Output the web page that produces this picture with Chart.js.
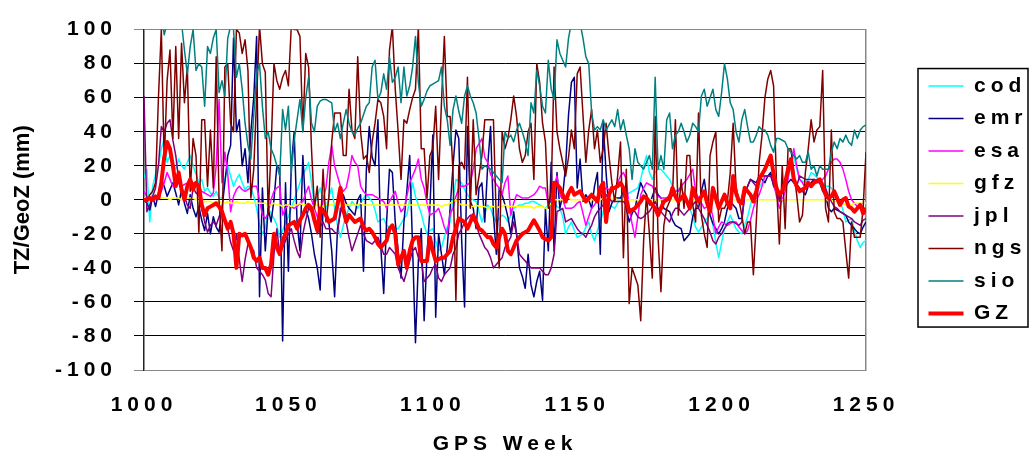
<!DOCTYPE html>
<html>
<head>
<meta charset="utf-8">
<script src="https://cdn.jsdelivr.net/npm/chart.js@4.4.1/dist/chart.umd.min.js"></script>
<style>
  html, body { margin: 0; padding: 0; background: #fff; }
  canvas { display: block; }
</style>
</head>
<body>
<canvas id="chart" width="1032" height="461"></canvas>
<script>
// GPS weeks 1000..1250, one value per week
const weeks = Array.from({ length: 251 }, (_, i) => 1000 + i);
const weekTicks = [1000, 1050, 1100, 1150, 1200, 1250];
const tzTicks = [-100, -80, -60, -40, -20, 0, 20, 40, 60, 80, 100];
const seriesNames = ['cod', 'emr', 'esa', 'gfz', 'jpl', 'ngs', 'sio', 'GZ'];

const cod = [
  13, 18, -13, 8, 15, 20, 30, 36, 22, 26,
  20, 18, 24, 20, 18, 22, 26, 20, 15, 10,
  12, 5, 7, 4, 2, 5, 1, 1, 12, 20,
  14, 8, 12, 15, 10, 6, 8, 7, 2, -5,
  -15, -20, -17, -5, -8, -11, -15, -22, -18, -13,
  -10, -5, 0, 5, 10, 15, 18, 22, 10, -3,
  2, 7, 0, -5, 2, 7, -5, -15, -22, -15,
  -9, -5, -1, -3, -5, -2, 1, 3, 1, -1,
  -6, -13, -12, -11, -15, -16, -17, -17, -17, -14,
  -11, -9, 0, 10, 2, -3, -8, -15, -20, -18,
  -17, -24, -30, -28, -22, -16, -13, 0, 12, 11,
  10, 6, 3, 1, 0, -1, -7, -13, -8, -3,
  -5, -10, -13, -11, -9, -10, -13, -9, -5, -4,
  -3, -3, -2, -2, -1, -1, -2, -3, -4, -5,
  -3, -1, -2, -4, -5, -10, -20, -16, -13, -18,
  -22, -21, -20, -16, -13, -20, -24, -18, -13, -7,
  -1, -3, -4, -5, -2, 1, 2, 3, 4, 5,
  6, 7, 12, 20, 26, 16, 12, 16, 18, 18,
  16, 14, 12, 8, 5, 6, 7, 3, -1, -5,
  -10, -16, -19, -16, -13, -11, -9, -15, -25, -34,
  -25, -17, -13, -9, -13, -17, -19, -20, -15, -10,
  -3, 3, 5, 7, 10, 14, 14, 14, 12, 8,
  3, 5, 7, 14, 20, 26, 18, 12, 11, 10,
  12, 16, 15, 13, 12, 10, 8, 8, 7, 4,
  1, -1, -6, -13, -12, -11, -18, -24, -28, -25,
  -24
];

const emr = [
  0, -2, -6, 2, -4, 4, 12, 8, 2, 6,
  10, 4, -3, 6, -2, -8, 3, -5, -10, -4,
  -12, -18, -8, -20, -10, -16, -19, -5, 10, 26,
  32, 95, 40, 47, 20, 30, 10, 40, 60, 96,
  -57, 7, -30, -5, -13, 0, 20, 18, -83, 10,
  -42, 20, 40, -13, -30, 26, -5, -11, -20, -32,
  -40, -53, -5, -10, -13, -30, -57, -17, -8, 3,
  -2, -5, -7, -9, 0, 3, -42, 18, 43, 25,
  20, 47, -28, -55, -13, 18, 16, -13, -30, -46,
  -13, 5, 26, -28, -84, -36, -17, -71, -32, -5,
  38, -69, -20, -32, -44, -28, -5, 20, 41, 36,
  -24, -63, 43, -1, -5, -17, 7, 10, -13, 20,
  43, -9, -32, 7, 3, -3, -10, -20, -7, -20,
  -40, -45, -52, -32, -50, -57, -48, -42, -59, -5,
  -30, 22, -30, 16, -5, 3, 20, 50, 69, 72,
  7, 24, -1, 3, 0, -5, 8, 16, -32, 45,
  16, -7, -2, 1, 1, 1, 5, -5, -13, -8,
  -5, 3, 10, 6, 3, -3, 2, 7, 3, 1,
  -5, -6, -7, -12, -15, -16, -17, -24, -22, -20,
  -10, -5, -5, 5, 12, 0, -9, -14, -17, -20,
  -17, -13, -5, -1, -3, -5, -11, -11, 3, 8,
  12, 11, 10, 14, 12, 10, 14, 16, 8, 5,
  1, 4, 8, 10, 12, 10, 9, 7, 5, 3,
  8, 10, 12, 11, 10, 5, 3, -5, -7, -5,
  -6, -7, -8, -9, -13, -15, -17, -19, -20, -16,
  -13
];

const esa = [
  5, 2, 0, 1, 0, 2, 5, 10, 16, 12,
  8, 8, 10, 8, 9, 10, 12, 10, 10, 8,
  5, 4, 3, 2, 4, 20, 59, 10, 28, 15,
  -7, 2, 6, 8, 6, 5, 6, 7, 8, 8,
  0, -9, -11, -8, 0, 5, 7, 8, -9, -5,
  -3, -4, -5, -4, -2, -1, 4, 8, 0, -5,
  -10, -15, 0, 7, 22, 32, 20, 14, 8, 5,
  7, 15, 26, 22, 20, 8, 5, 3, 3, 3,
  2, 1, 0, -1, -5, -1, 2, 5, -2, -7,
  -5, 2, 10, 14, 18, 24, 12, 7, -2, -9,
  -8, -7, -5, -10, -16, -20, -8, -5, 2, 7,
  8, 8, 9, 10, 18, 30, 33, 36, 25, 22,
  15, 12, 9, 7, 3, 10, 14, -9, -2, 3,
  2, 1, 1, 1, 2, 3, 5, 8, 7, 7,
  -3, 2, 8, 14, 3, 0, -5, -5, -5, -4,
  -2, -1, -8, -15, -10, -5, -3, 0, 3, 5,
  7, 6, 5, 7, 10, 14, 16, 12, -5, -14,
  -22, -10, 3, 7, 10, 9, 8, 5, 2, 1,
  1, 1, 3, 5, 5, 5, 8, 10, 12, 15,
  18, 5, 1, -2, -5, -4, -3, -10, -20, -16,
  -13, -14, -15, -14, -13, -13, -16, -18, -20, -18,
  -12, -5, 0, 3, 8, 14, 14, 14, 10, 2,
  -5, 0, 5, 12, 22, 30, 20, 12, 10, 7,
  8, 9, 10, 10, 10, 12, 14, 18, 22, 24,
  24, 22, 18, 12, 5, 0, -2, -4, -5, -5,
  -5
];

const gfz = [
  1, 1, 1, 1, 1, 1, 1, 1, 1, 0,
  1, 1, 1, 0, 1, 1, 1, 1, 0, 1,
  0, -1, -1, -1, -2, -1, -1, -2, -2, -1,
  -2, -2, -1, -2, -2, -2, -1, -2, -2, -2,
  -2, -2, -2, -3, -3, -2, -3, -3, -4, -3,
  -3, -4, -3, -3, -2, -3, -3, -3, -4, -3,
  -3, -3, -4, -3, -3, -3, -2, -3, -3, -3,
  -3, -3, -3, -3, -3, -2, -3, -3, -3, -3,
  -3, -3, -3, -3, -3, -3, -3, -3, -3, -3,
  -3, -3, -3, -3, -3, -3, -3, -3, -3, -3,
  -3, -3, -3, -4, -3, -3, -2, -1, 0, -2,
  -3, -3, -3, -4, -4, -3, -4, -4, -4, -5,
  -4, -4, -5, -4, -4, -3, -4, -4, -4, -4,
  -4, -4, -4, -4, -4, -5, -4, -4, -4, -5,
  -4, -2, 0, 0, 0, 0, 0, 1, 0, 0,
  0, 0, 0, 0, 0, 0, 0, 0, 0, 1,
  0, 0, 0, 1, 0, 0, 0, 0, 0, 0,
  0, 0, 0, 0, 1, 0, 0, 0, 0, 0,
  0, 0, 0, 0, 0, 0, 0, 0, 0, 0,
  0, 0, 0, 0, 0, 0, 0, 0, 0, 0,
  0, 0, 0, 0, 0, 0, 0, 0, 0, 0,
  0, 0, 0, 0, 0, 0, 0, 0, 0, 0,
  0, 0, 0, 0, 0, 0, 0, 0, 0, 0,
  0, 0, 0, 0, 0, 0, 0, 0, 0, -1,
  -1, -2, -2, -3, -3, -3, -2, -2, -2, -2,
  -2
];

const jpl = [
  61, -7, -3, 2, 7, 20, 43, 40, 45, 47,
  35, 26, 12, 8, 2, -3, -5, 7, 4, 3,
  -5, -13, -19, -15, -13, -15, -10, -5, -12, -17,
  -25, -30, -20, -35, -48, -35, -26, -28, -30, -40,
  -42, -44, -47, -55, -57, -32, -17, -32, -28, -24,
  -20, -17, -24, -30, -34, -20, -12, -5, -7, -9,
  -20, -16, -13, -17, -17, -17, -19, -20, -5, -8,
  -13, -22, -30, -25, -20, -15, -20, -24, -25, -26,
  -24, -22, -27, -32, -32, -28, -30, -32, -40, -44,
  -48, -42, -36, -30, -28, -34, -36, -48, -46, -44,
  -40, -38, -46, -48, -44, -42, -40, -32, -28, -20,
  -17, -13, -11, -9, -12, -14, -20, -24, -28, -30,
  -34, -40, -38, -36, -34, -28, -25, -22, -13, -20,
  -32, -34, -36, -38, -40, -40, -40, -40, -42, -44,
  -44, -40, -32, -7, -6, -5, -13, -12, -11, -14,
  -17, -19, -20, -22, -18, -15, -10, -7, -5, -3,
  3, 1, -1, -1, -1, -1, -1, -3, -5, -6,
  -7, -10, -11, -10, -8, -7, -4, -1, -5, -7,
  -9, -11, -13, -8, -5, -5, -7, -9, -7, -5,
  -3, -1, -5, -8, -11, -15, -19, -24, -26, -22,
  -20, -17, -14, -13, -13, -14, -15, -13, 3, 8,
  12, 10, 8, 14, 14, 14, 14, 14, 9, 7,
  -1, 5, 12, 16, 20, 12, 8, 14, 13, 12,
  12, 12, 12, 11, 10, 8, 7, 2, -1, -4,
  -5, -7, -8, -9, -10, -11, -13, -14, -15, -12,
  -11
];

const ngs = [
  0, -1, 3, 5, 10, 60, 100, 22, 70, 88,
  36, 90, 36, 92, 57, 78, 5, 36, 26, -19,
  47, 47, 8, 41, 7, 84, -1, -30, 78, 80,
  45, 40, 100, 98, 86, 94, 76, 1, 18, 60,
  102, 80, 75, -9, 30, 80, 70, 65, 72, 76,
  67, 102, 100, 100, 96, 40, 86, 78, 30, -5,
  8, -22, 18, -13, 1, 34, 51, 51, 51, 26,
  26, 65, 41, 36, 84, 40, 24, 26, 16, 34,
  45, 59, 57, 49, 30, 88, 102, 65, 40, 12,
  47, 45, 53, 60, 65, 102, 30, 30, 1, 26,
  30, 55, 12, 57, 96, 49, 49, 16, -59, 20,
  22, 18, 72, -5, 47, 3, 14, 26, 47, 47,
  47, 47, -13, -40, 40, 30, 36, 47, 61, 49,
  30, 22, 26, 40, 45, 12, 80, 69, 45, 34,
  -5, 5, 78, 40, 30, 22, 14, 25, 41, 30,
  74, 78, 50, 22, 41, 53, 30, 41, 22, 30,
  45, 26, 10, -1, 14, 34, -34, 18, -61, -40,
  -45, -50, -71, -24, 3, -20, -46, 49, -22, -54,
  -15, -5, -1, 3, 47, -9, 12, -5, 26, 26,
  -3, -13, 51, -9, -20, -28, 26, 34, 40, -13,
  -5, -5, -1, 16, 45, 7, 0, -9, -20, -13,
  -13, -44, -13, 22, 38, 60, 71, 76, 67, 10,
  -26, 20, -17, 30, 30, 16, 3, -13, -9, 16,
  30, 47, 34, 41, 43, 76, -5, -13, 41, -7,
  -11, -11, -13, -30, -46, -13, -22, -22, -22, -5,
  28
];

const sio = [
  115, 118, 120, 115, 112, 110, 108, 97, 104, 112,
  115, 110, 108, 104, 88, 74, 90, 100, 76, 80,
  78, 55, 90, 86, 95, 100, 63, 70, 61, 95,
  102, 100, 72, 80, 65, 45, 32, 24, 50, 74,
  80, 55, 36, 40, 30, 26, 20, 14, 53, 41,
  55, 16, 35, 47, 59, 40, 60, 72, 45, 40,
  55, 58, 59, 59, 58, 57, 40, 45, 36, 45,
  53, 45, 40, 38, 42, 45, 50, 55, 57, 78,
  82, 59, 63, 74, 65, 84, 69, 72, 78, 57,
  78, 61, 67, 78, 96, 69, 55, 59, 64, 67,
  68, 69, 70, 78, 55, 47, 32, 53, 61, 52,
  45, 61, 67, 61, 57, 51, 36, 18, 20, 19,
  18, 16, 14, 12, 10, 40, 36, 38, 34, 41,
  45, 40, 34, 26, 57, 51, 76, 67, 55, 51,
  82, 65, 59, 94, 86, 82, 78, 95, 104, 106,
  103, 104, 95, 84, 80, 51, 41, 43, 41, 47,
  41, 44, 47, 43, 53, 41, 47, 38, 30, 12,
  30, 22, 20, 18, 22, 26, 18, 72, 18, 26,
  18, 47, 51, 30, 38, 40, 45, 40, 34, 38,
  45, 43, 40, 61, 65, 55, 60, 65, 53, 49,
  63, 80, 71, 57, 53, 40, 34, 47, 53, 43,
  34, 34, 38, 43, 41, 41, 38, 32, 28, 36,
  36, 35, 34, 30, 28, 26, 24, 26, 22, 22,
  28, 18, 20, 14, 20, 18, 18, 18, 28, 34,
  30, 36, 34, 38, 34, 32, 41, 36, 41, 43,
  44
];

const gz = [
  0, 0, 1, 0, 2, 1, 10, 25, 34, 30,
  20, 8, 16, 6, 0, 8, 12, 6, 10, 8,
  -3, -9, -5, -4, -3, -2, -4, -7, -12, -17,
  -13, -20, -40, -20, -21, -20, -24, -28, -34, -36,
  -34, -40, -40, -44, -38, -20, -28, -32, -24, -20,
  -15, -14, -13, -17, -12, -9, -5, -3, -5, -12,
  -18, -5, -7, -9, -13, -12, -11, -3, 7, -5,
  -13, -9, -11, -13, -12, -11, -16, -18, -17, -19,
  -22, -26, -28, -26, -24, -17, -15, -20, -38, -34,
  -30, -40, -30, -24, -22, -22, -36, -36, -36, -22,
  -30, -36, -35, -34, -34, -32, -30, -22, -17, -11,
  -12, -13, -17, -13, -9, -13, -17, -18, -20, -22,
  -22, -26, -28, -22, -17, -20, -30, -32, -28, -24,
  -22, -20, -19, -18, -15, -12, -15, -18, -22, -23,
  -24, -22, 10, 9, 7, 3, -1, 4, 7, 3,
  4, 5, 2, -1, 1, 3, 1, -1, 7, 10,
  -13, 3, 7, 7, 8, 10, 7, 0, -7, -6,
  -5, -3, -1, 2, 1, -1, -3, -5, -9, -5,
  -1, 0, 1, 7, 2, -1, 1, 3, -1, -5,
  7, 2, -1, 2, 5, -2, -7, 7, 1, -5,
  -1, 3, -2, -5, 14, 4, -1, -2, 7, 5,
  3, -1, 5, 12, 15, 18, 22, 26, 15, 7,
  3, 5, 10, 18, 24, 12, 8, 5, 6, 7,
  10, 8, 10, 11, 12, 8, 3, 1, 2, 5,
  1, -3, 0, 1, -4, -5, -7, -5, -3, -8,
  -5
];

const seriesValues = [cod, emr, esa, gfz, jpl, ngs, sio, gz];
const seriesColors = ['#00FFFF', '#000080', '#FF00FF', '#FFFF00', '#800080', '#800000', '#008080', '#FF0000'];

const canvas = document.getElementById('chart');
const ctx = canvas.getContext('2d');

// the original uses spread-out lettering everywhere except the y title
const yTitle = 'TZ/GeoZ (mm)';
const spacingFor = text => (text === yTitle ? '0px' : '5px');
const rawFill = ctx.fillText.bind(ctx);
const rawMeasure = ctx.measureText.bind(ctx);
ctx.fillText = (text, x, y, maxWidth) => {
  ctx.letterSpacing = spacingFor(text);
  if (maxWidth === undefined) rawFill(text, x, y);
  else rawFill(text, x, y, maxWidth);
};
ctx.measureText = text => {
  ctx.letterSpacing = spacingFor(text);
  return rawMeasure(text);
};

const family = "'Liberation Sans', Arial, sans-serif";
const tickFont = { family: family, size: 21, weight: 'bold' };

const legendFrame = {
  id: 'legendFrame',
  afterDraw(chart) {
    const boxes = chart.legend.legendHitBoxes;
    if (!boxes || !boxes.length) return;
    const first = boxes[0];
    const last = boxes[boxes.length - 1];
    const c = chart.ctx;
    c.save();
    c.strokeStyle = '#000';
    c.lineWidth = 1.5;
    c.strokeRect(first.left - 10.5, first.top - 7, 110, last.top + last.height + 3 - (first.top - 7));
    c.restore();
  }
};

const datasets = seriesNames.map((name, i) => ({
  label: name,
  data: seriesValues[i],
  borderColor: seriesColors[i],
  backgroundColor: seriesColors[i],
  borderWidth: name === 'GZ' ? 4 : 1.5,
  borderJoinStyle: 'round',
  pointRadius: 0,
  order: seriesNames.length - i
}));

new Chart(ctx, {
  type: 'line',
  data: { labels: weeks, datasets: datasets },
  plugins: [legendFrame],
  options: {
    responsive: false,
    animation: false,
    devicePixelRatio: 1,
    layout: { padding: { top: 26, left: 0, right: 0, bottom: 0 } },
    plugins: {
      legend: {
        position: 'right',
        fullSize: false,
        maxWidth: 115,
        labels: {
          usePointStyle: true,
          pointStyle: 'line',
          pointStyleWidth: 35,
          padding: 11.5,
          color: '#000',
          font: tickFont,
          sort: (a, b) => a.datasetIndex - b.datasetIndex
        }
      },
      tooltip: { enabled: false }
    },
    scales: {
      x: {
        type: 'linear',
        min: 1000,
        max: 1250,
        afterBuildTicks: s => { s.ticks = weekTicks.map(v => ({ value: v })); },
        afterFit: s => { s.height = 91; },
        grid: { display: false, drawTicks: false },
        border: { display: false },
        ticks: {
          padding: 23,
          color: '#000',
          font: tickFont,
          maxRotation: 0,
          autoSkip: false,
          callback: v => String(v)
        },
        title: {
          display: true,
          text: 'GPS Week',
          color: '#000',
          font: tickFont,
          padding: { top: 0, bottom: 4 }
        }
      },
      y: {
        min: -100,
        max: 100,
        afterBuildTicks: s => { s.ticks = tzTicks.map(v => ({ value: v })); },
        afterFit: s => { s.width = 144; },
        grid: {
          color: c => (c.tick && Math.abs(c.tick.value) === 100 ? '#888' : '#000'),
          lineWidth: 1,
          tickLength: 10
        },
        border: { color: '#222', width: 1.5 },
        ticks: { padding: 17, color: '#000', font: tickFont },
        title: {
          display: true,
          text: yTitle,
          color: '#000',
          font: { family: family, size: 22, weight: 'bold' },
          padding: { top: 10, bottom: 0 }
        }
      },
      yRight: {
        position: 'right',
        display: true,
        min: -100,
        max: 100,
        afterFit: s => { s.width = 51; },
        grid: { display: false },
        ticks: { display: false },
        border: { display: true, color: '#888', width: 1.5 }
      }
    }
  }
});
</script>
</body>
</html>
